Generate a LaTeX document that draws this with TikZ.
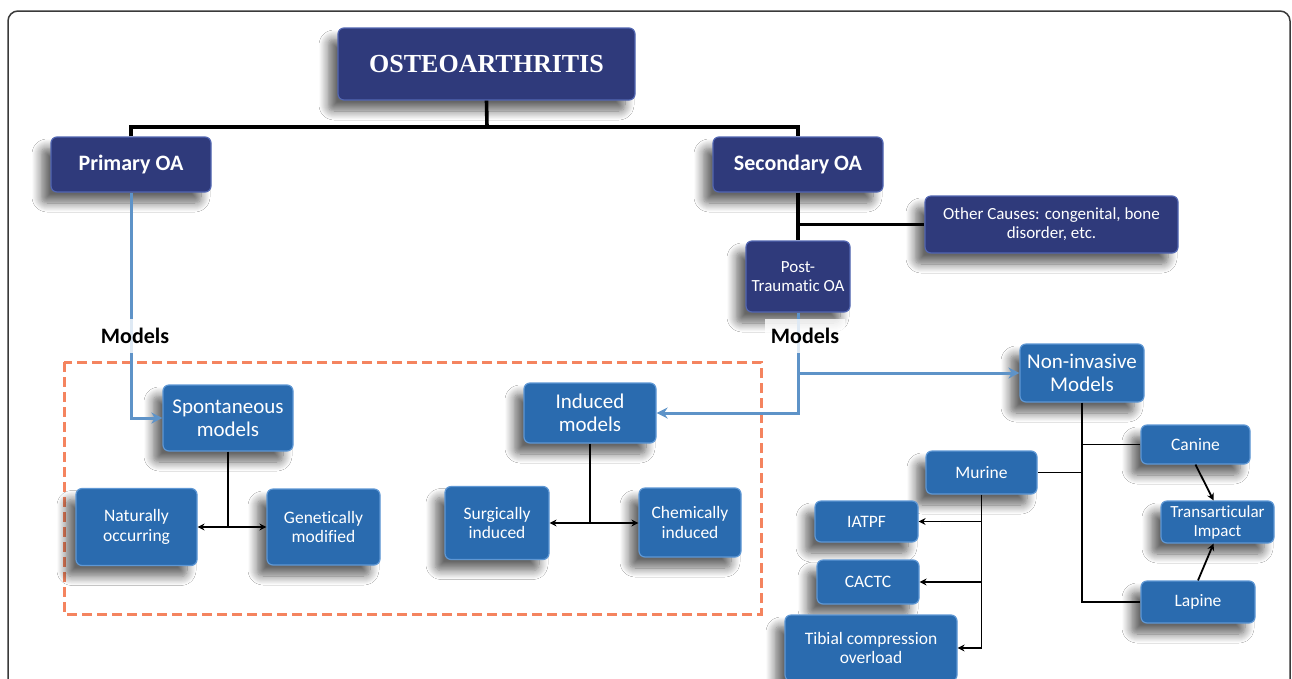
\documentclass[tikz,border=0pt]{standalone}
\usepackage{fontspec}
\setmainfont[Ligatures=NoCommon]{Carlito}
\newfontfamily\titlefont{Liberation Serif}
\usetikzlibrary{arrows.meta,shadows.blur}
\definecolor{navy}{HTML}{2F3A7B}
\definecolor{navyedge}{HTML}{5266B2}
\definecolor{bluebox}{HTML}{2A6BAF}
\definecolor{blueedge}{HTML}{5E97D4}
\definecolor{blueline}{HTML}{5E93C8}
\definecolor{dashorange}{HTML}{F4845F}
\definecolor{framegray}{HTML}{3A3A3A}
\tikzset{
  boxbase/.style={rounded corners=6pt, line width=1.2pt, text=white, align=center, inner sep=0pt,
    blur shadow={shadow xshift=-10pt, shadow yshift=-11pt, shadow blur radius=9pt, shadow blur steps=10, shadow opacity=60}},
  navybox/.style={boxbase, fill=navy, draw=navyedge},
  bluebox/.style={boxbase, fill=bluebox, draw=blueedge},
  bigtxt/.style={font=\fontsize{21}{23}\selectfont},
  midtxt/.style={font=\fontsize{17.5}{19.5}\selectfont},
  smalltxt/.style={font=\fontsize{17}{19}\selectfont},
  boldtxt/.style={font=\fontsize{22}{24}\selectfont\bfseries},
  thickblack/.style={line width=3.6pt, draw=black},
  thinblack/.style={line width=1.8pt, draw=black},
  thinarrow/.style={thinblack, -{Stealth[length=7pt,width=7pt]}},
  thindouble/.style={thinblack, {Stealth[length=7pt,width=7pt]}-{Stealth[length=7pt,width=7pt]}},
  blueconn/.style={line width=3pt, draw=blueline, -{Stealth[length=11pt,width=11pt]}},
  modelslabel/.style={font=\fontsize{22}{24}\selectfont\bfseries, text=black, fill=white, fill opacity=0.8, text opacity=1, inner xsep=6pt, minimum height=34pt}
}
\begin{document}
\begin{tikzpicture}[x=1pt,y=-1pt]
\useasboundingbox (0,0) rectangle (1292,678);
\fill[white] (0,0) rectangle (1292,678);
\draw[framegray, line width=1.5pt, rounded corners=10pt] (8,700) -- (8,11) -- (1290,11) -- (1290,700);

% orange dashed frame
\draw[dashorange, line width=3pt, dash pattern=on 10pt off 5pt] (64,362) rectangle (761,614);

% nodes
\node[navybox, minimum width=297pt, minimum height=72pt] (osteo) at (486.5,64) {\titlefont\fontsize{26}{28}\selectfont\bfseries OSTEOARTHRITIS};
\node[navybox, boldtxt, minimum width=160pt, minimum height=55pt] (primary) at (131,164.5) {Primary OA};
\node[navybox, boldtxt, minimum width=170pt, minimum height=55pt] (secondary) at (798,164.5) {Secondary OA};
\node[navybox, smalltxt, minimum width=253pt, minimum height=57pt] (other) at (1051.5,224.5) {Other Causes: congenital, bone\\disorder, etc.};
\node[navybox, smalltxt, minimum width=104pt, minimum height=71pt] (post) at (798,276.5) {Post-\\Traumatic OA};

\node[bluebox, bigtxt, minimum width=130pt, minimum height=66pt] (spont) at (228,418) {Spontaneous\\models};
\node[bluebox, midtxt, minimum width=121pt, minimum height=77pt] (natural) at (136.5,527) {Naturally\\occurring};
\node[bluebox, midtxt, minimum width=113pt, minimum height=76pt] (genetic) at (323.5,527) {Genetically\\modified};
\node[bluebox, bigtxt, minimum width=132pt, minimum height=60pt] (induced) at (590,413) {Induced\\models};
\node[bluebox, midtxt, minimum width=104pt, minimum height=73pt] (surg) at (497,523) {Surgically\\induced};
\node[bluebox, midtxt, minimum width=102pt, minimum height=69pt] (chem) at (690,522.5) {Chemically\\induced};

\node[bluebox, bigtxt, minimum width=124pt, minimum height=58pt] (noninv) at (1082,373) {Non-invasive\\Models};
\node[bluebox, midtxt, minimum width=109pt, minimum height=39pt] (canine) at (1195.5,444.5) {Canine};
\node[bluebox, smalltxt, minimum width=113pt, minimum height=42pt] (trans) at (1217.5,522) {Transarticular\\Impact};
\node[bluebox, midtxt, minimum width=114pt, minimum height=42pt] (lapine) at (1198,602) {Lapine};
\node[bluebox, midtxt, minimum width=111pt, minimum height=43pt] (murine) at (981.5,472.5) {Murine};
\node[bluebox, midtxt, minimum width=103pt, minimum height=41pt] (iatpf) at (866.5,521.5) {IATPF};
\node[bluebox, midtxt, minimum width=102pt, minimum height=44pt] (cactc) at (868,582) {CACTC};
\node[bluebox, midtxt, minimum width=172pt, minimum height=66pt] (tibial) at (871,648) {Tibial compression\\overload};

% black tree top
\coordinate (j1) at (487,127);
\draw[thickblack] (osteo.south) -- (j1);
\draw[thickblack] (primary.north) |- (j1) -| (secondary.north);
\draw[thickblack] (secondary.south) -- (post.north);
\draw[thickblack] (secondary.south |- other.west) -- (other.west);

% blue connectors
\draw[blueconn] (primary.south) |- (spont.west);
\draw[blueconn] (post.south) |- (induced.east);
\draw[blueconn] (post.south |- noninv.west) -- (noninv.west);

% labels
\node[modelslabel] (mleft) at (135,336) {Models};
\node[modelslabel] (mright) at (805,336) {Models};

% spontaneous / induced trees
\draw[thinblack] (spont.south) -- (spont.south |- natural.east);
\draw[thindouble] (natural.east) -- (natural.east -| genetic.west);
\draw[thinblack] (induced.south) -- (induced.south |- surg.east);
\draw[thindouble] (surg.east) -- (surg.east -| chem.west);

% non-invasive tree
\draw[thinblack] (noninv.south) |- (lapine.west);
\draw[thinblack] (noninv.south |- canine.west) -- (canine.west);
\draw[thinblack] (noninv.south |- murine.east) -- (murine.east);

% murine tree
\draw[thinarrow] (murine.south) |- (tibial.east);
\draw[thinarrow] (murine.south |- iatpf.east) -- (iatpf.east);
\draw[thinarrow] (murine.south |- cactc.east) -- (cactc.east);

% transarticular arrows
\draw[thinarrow] (canine.south) -- ([xshift=-4pt]trans.north);
\draw[thinarrow] (lapine.north) -- ([xshift=-4pt]trans.south);
\end{tikzpicture}
\end{document}
